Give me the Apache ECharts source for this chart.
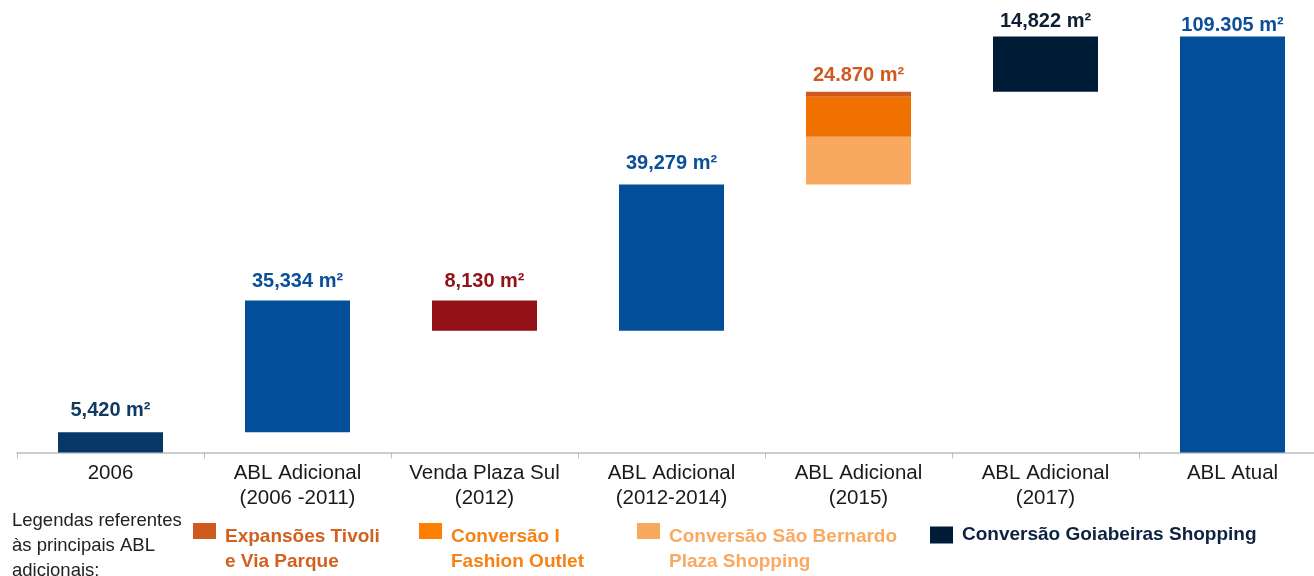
<!DOCTYPE html>
<html><head><meta charset="utf-8">
<script src="https://cdn.jsdelivr.net/npm/echarts@6/dist/echarts.min.js"></script>
<style>html,body{margin:0;padding:0;background:#fff}#c{width:1314px;height:576px}</style>
</head><body><div id="c"></div>
<script>
// ---- data ----
const categories = ['2006', 'ABL Adicional\n(2006 -2011)', 'Venda Plaza Sul\n(2012)', 'ABL Adicional\n(2012-2014)', 'ABL Adicional\n(2015)', 'ABL Adicional\n(2017)', 'ABL Atual'];
const steps = [5420, 35334, -8130, 39279, null, null, null];          // single-colour steps
const saoBernardo = [null, null, null, null, 12800, null, null];       // Conversão São Bernardo Plaza Shopping
const fashionOutlet = [null, null, null, null, 10730, null, null];     // Conversão I Fashion Outlet
const tivoli = [null, null, null, null, 1340, null, null];             // Expansões Tivoli e Via Parque
const goiabeiras = [null, null, null, null, null, 14822, null];        // Conversão Goiabeiras Shopping
const totalBar = [null, null, null, null, null, null, 111595];         // ABL Atual (height as drawn)
const valueLabels = ['5,420 m²', '35,334 m²', '8,130 m²', '39,279 m²', '24.870 m²', '14,822 m²', '109.305 m²'];
const legendNames = ['Expansões Tivoli e Via Parque', 'Conversão I Fashion Outlet', 'Conversão São Bernardo Plaza Shopping', 'Conversão Goiabeiras Shopping'];
const legendLines = [['Expansões Tivoli', 'e Via Parque'], ['Conversão I', 'Fashion Outlet'], ['Conversão São Bernardo', 'Plaza Shopping'], ['Conversão Goiabeiras Shopping']];

// ---- styling ----
const barColors = ['#053867', '#034e98', '#921217', '#034e98', null, null, '#034e98'];
const labelColors = ['#0f3b62', '#0a4f97', '#921217', '#0a4f97', '#cf5a1e', '#0e1f33', '#0a4f97'];
const labelGaps = [11.5, 9, 8.7, 11, 6.3, 4.7, 1];
const C_TIVOLI = '#cf5a1e', C_FASHION = '#f07000', C_SAOB = '#f9a95f', C_GOIA = '#001c36';

// ---- waterfall bases ----
const base = [];
let cum = 0;
for (let i = 0; i < categories.length; i++) {
  let inc = 0;
  if (steps[i] != null) inc = steps[i];
  else inc = (saoBernardo[i] || 0) + (fashionOutlet[i] || 0) + (tivoli[i] || 0) + (goiabeiras[i] || 0);
  if (totalBar[i] != null) { base.push(0); continue; }
  if (inc >= 0) { base.push(cum); cum += inc; }
  else { cum += inc; base.push(cum); }
}

const FONT = '"Liberation Sans", Arial, Helvetica, sans-serif';
const BW = 105;
const lbl = (i) => ({
  show: true, position: 'top', distance: labelGaps[i],
  formatter: () => valueLabels[i],
  color: labelColors[i], fontSize: 20, fontWeight: 'bold', fontFamily: FONT
});

const mainData = categories.map((c, i) => {
  let v = steps[i] != null ? Math.abs(steps[i]) : (totalBar[i] != null ? totalBar[i] : '-');
  if (v === '-') return '-';
  return { value: v, itemStyle: { color: barColors[i] }, label: lbl(i) };
});
const seg = (arr, color, withLabel) => arr.map((v, i) => {
  if (v == null) return '-';
  const o = { value: v, itemStyle: { color } };
  if (withLabel) o.label = lbl(i);
  return o;
});

const legendCommon = {
  itemWidth: 23, itemHeight: 16, itemGap: 0, selectedMode: false, padding: 0,
  icon: 'rect', orient: 'horizontal'
};
const twoLineLegend = (k, left, color, iconColor) => {
  const o = Object.assign({}, legendCommon, {
    data: [legendNames[k]], left: left, top: 501,
    formatter: () => '{s| }\n{t|' + legendLines[k][0] + '}\n{t|' + legendLines[k][1] + '}',
    textStyle: {
      color: color, fontSize: 19, fontWeight: 'bold', padding: [0, 0, 0, 4], fontFamily: FONT,
      rich: {
        s: { fontSize: 10, lineHeight: 36 },
        t: { color: color, fontSize: 19, fontWeight: 'bold', lineHeight: 25, fontFamily: FONT }
      }
    }
  });
  if (iconColor) o.itemStyle = { color: iconColor };
  return o;
};

const option = {
  animation: false,
  backgroundColor: '#fff',
  textStyle: { fontFamily: FONT },
  grid: { left: 17, right: -12, top: 20, bottom: 123.5, containLabel: false, outerBoundsMode: 'none' },
  title: {
    text: 'Legendas referentes\nàs principais ABL\nadicionais:',
    left: 7, top: 503.5,
    textStyle: { fontSize: 18.5, fontWeight: 'normal', color: '#222', lineHeight: 25, fontFamily: FONT }
  },
  legend: [
    twoLineLegend(0, 193, '#d2601e'),
    twoLineLegend(1, 419, '#f78214', '#ff8000'),
    twoLineLegend(2, 637, '#f9a960'),
    Object.assign({}, legendCommon, {
      data: [legendNames[3]], left: 930, top: 525.5, itemHeight: 17,
      textStyle: { color: '#0d2240', fontSize: 19, fontWeight: 'bold', lineHeight: 17, padding: [0, 0, 0, 4], fontFamily: FONT }
    })
  ],
  xAxis: {
    type: 'category', data: categories,
    axisLine: { lineStyle: { color: '#bdbdbd', width: 1.5 } },
    axisTick: { show: true, length: 6, lineStyle: { color: '#bdbdbd' } },
    axisLabel: { fontSize: 20.5, lineHeight: 25, color: '#1a1a1a', margin: 8, interval: 0, fontFamily: FONT }
  },
  yAxis: { type: 'value', min: 0, max: 116000, show: false, splitLine: { show: false } },
  series: [
    { name: 'base', type: 'bar', stack: 'w', barWidth: BW, silent: true,
      itemStyle: { color: 'rgba(0,0,0,0)' }, data: base },
    { name: 'ABL', type: 'bar', stack: 'w', barWidth: BW, data: mainData },
    { name: legendNames[2], type: 'bar', stack: 'w', barWidth: BW,
      itemStyle: { color: C_SAOB }, data: seg(saoBernardo, C_SAOB, false) },
    { name: legendNames[1], type: 'bar', stack: 'w', barWidth: BW,
      itemStyle: { color: C_FASHION }, data: seg(fashionOutlet, C_FASHION, false) },
    { name: legendNames[0], type: 'bar', stack: 'w', barWidth: BW,
      itemStyle: { color: C_TIVOLI }, data: seg(tivoli, C_TIVOLI, true) },
    { name: legendNames[3], type: 'bar', stack: 'w', barWidth: BW,
      itemStyle: { color: C_GOIA }, data: seg(goiabeiras, C_GOIA, true) }
  ]
};
const chart = echarts.init(document.getElementById('c'), null, { renderer: 'canvas' });
chart.setOption(option);
</script></body></html>
